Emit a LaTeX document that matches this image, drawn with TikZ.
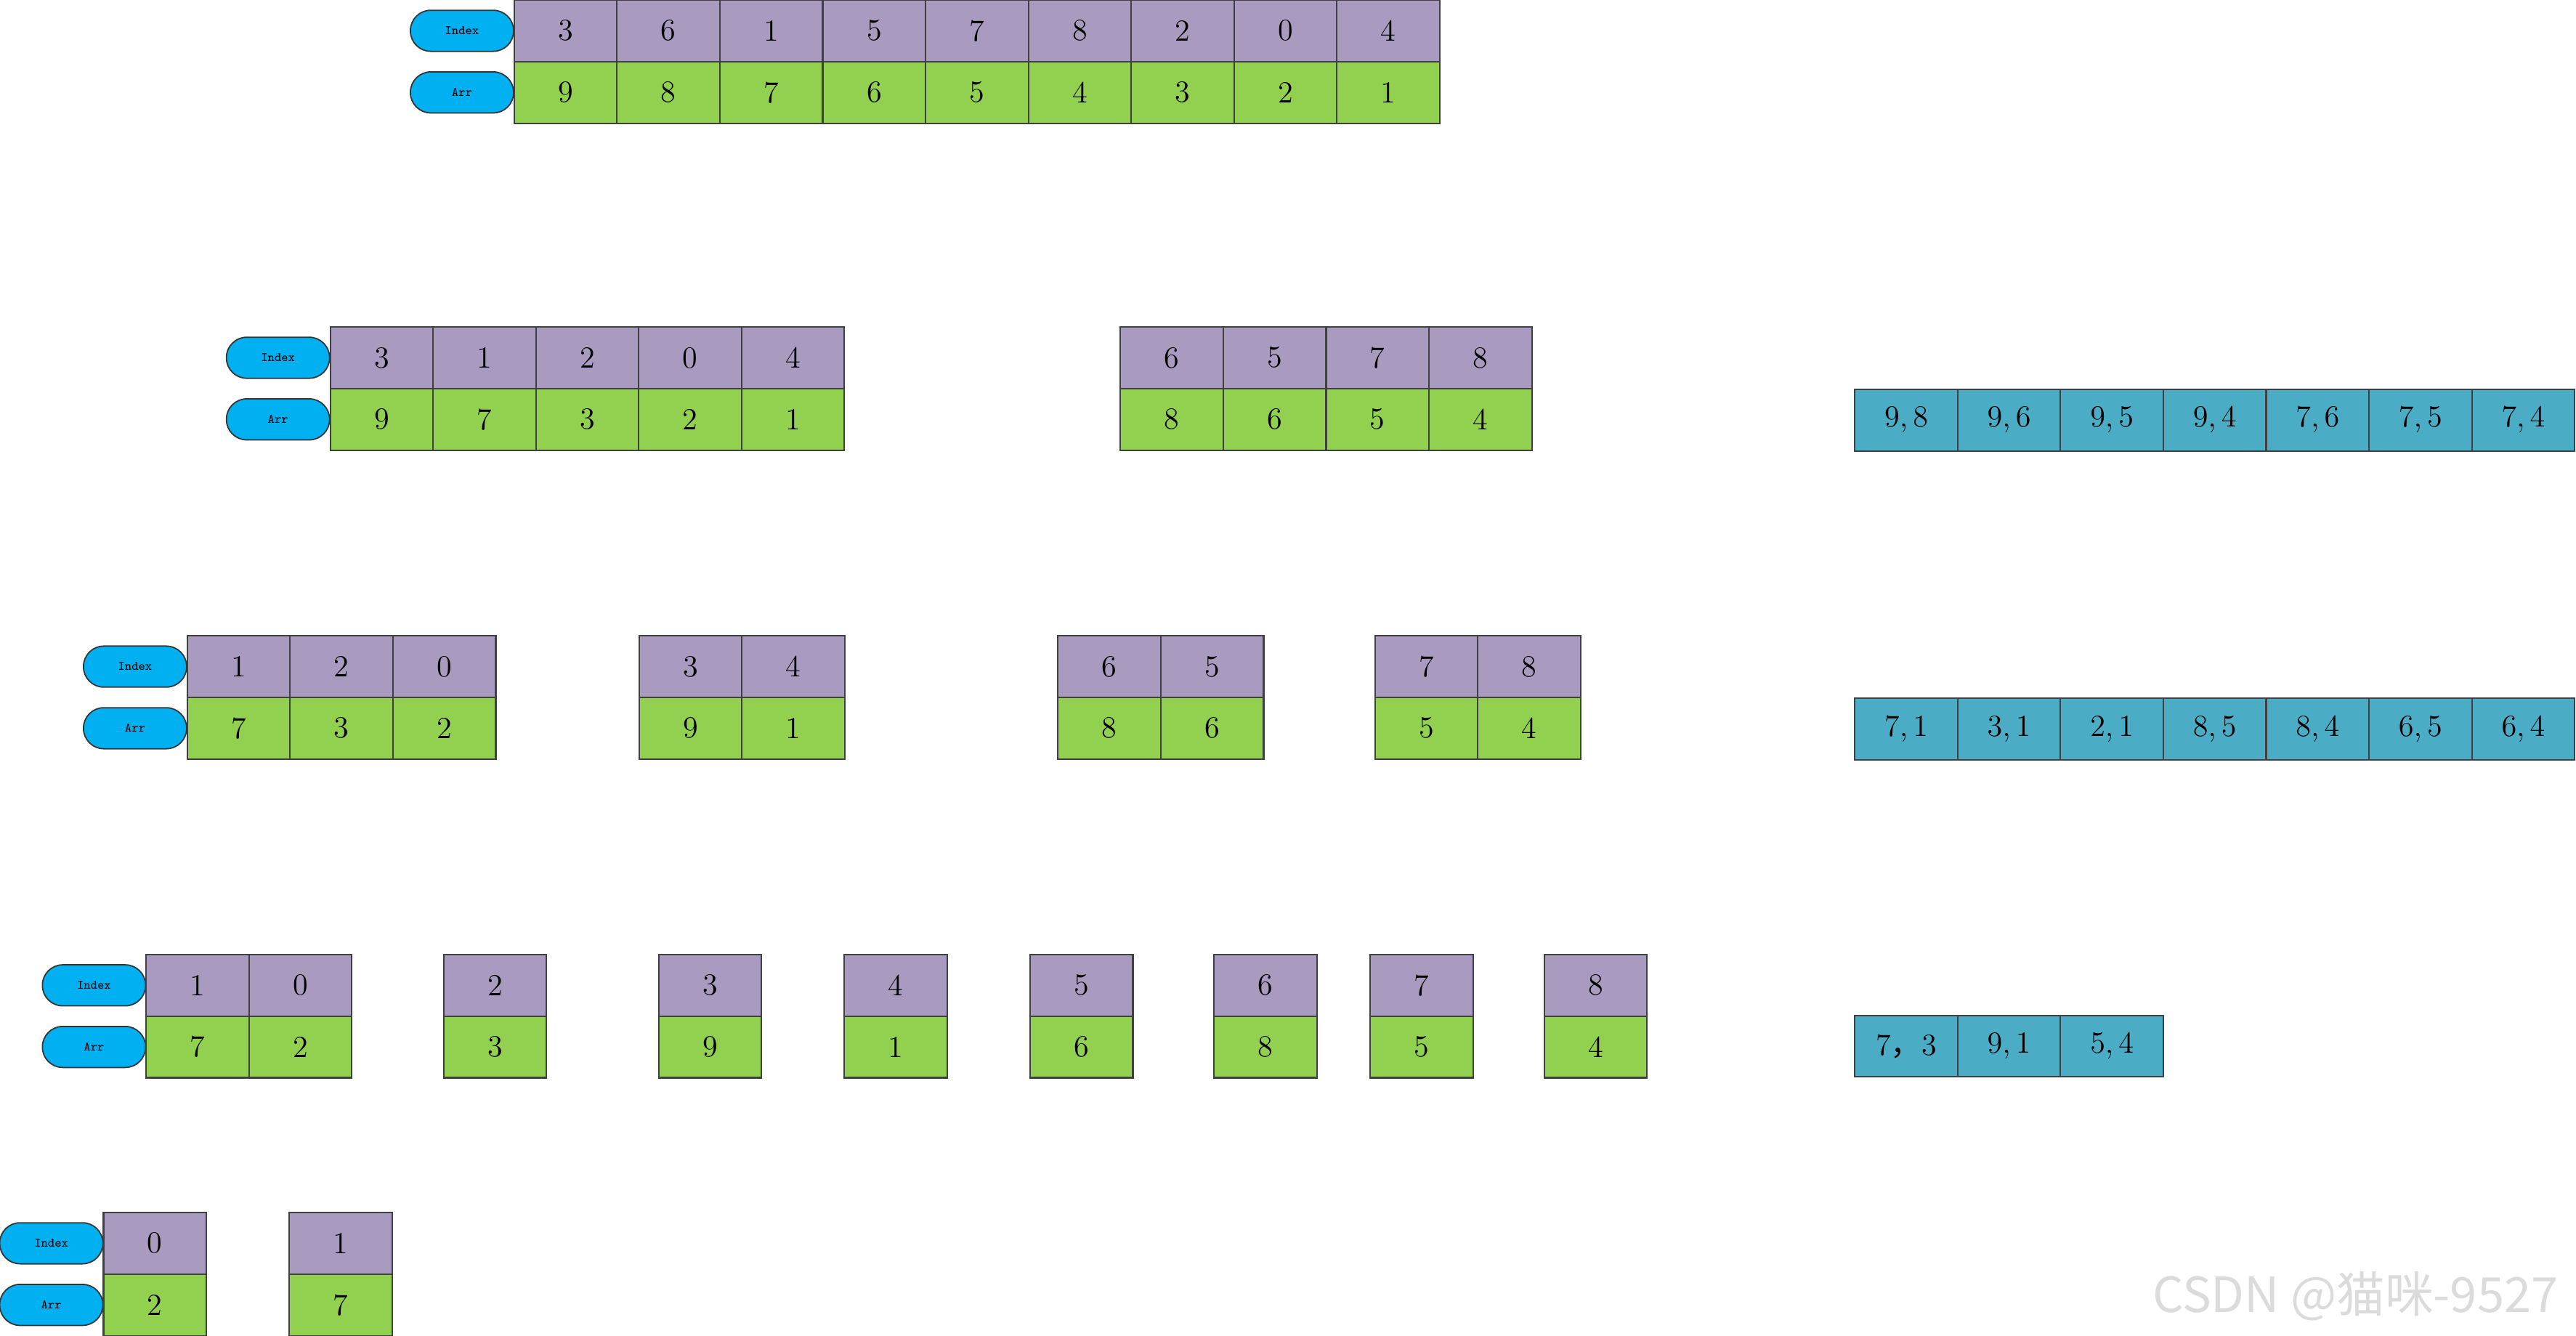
\documentclass[tikz,border=0pt]{standalone}
\usepackage{fontspec}
\newfontfamily\cjk{Noto Sans CJK SC}
\definecolor{idxpurple}{RGB}{169,155,192}
\definecolor{arrgreen}{RGB}{146,208,80}
\definecolor{pairteal}{RGB}{75,172,198}
\definecolor{tagblue}{RGB}{0,176,240}

% one block of Index/Arr columns: name, left x, top y, index/arr list
\newcommand{\cellrow}[4]{%
  \foreach \i/\v [count=\k from 0] in {#4} {
    \node[idxcell] (#1i\k) at ({#2+31.3+62.6*\k},{#3+18.75}) {\i};
    \node[arrcell] (#1a\k) at ({#2+31.3+62.6*\k},{#3+56.25}) {\v};
  }}
% the two labels left of a block: name, right x, top y
\newcommand{\tags}[3]{%
  \node[tag, anchor=east] (#1idx) at (#2,#3+18.75) {Index};
  \node[tag, anchor=east] (#1arr) at (#2,#3+56.25) {Arr};}
% a row of pairs: name, left x, top y, list
\newcommand{\pairrow}[4]{%
  \foreach \t [count=\k from 0] in {#4}
    \node[paircell] (#1p\k) at ({#2+31.3+62.6*\k},{#3+18.75}) {\t};}

\begin{document}
\begin{tikzpicture}[x=0.022615cm, y=-0.022615cm,
  cell/.style={draw=black!75, line width=0.6pt, minimum width=1.4157cm, minimum height=0.848cm, inner sep=0pt, font=\fontsize{12}{14}\selectfont},
  idxcell/.style={cell, fill=idxpurple},
  arrcell/.style={cell, fill=arrgreen},
  paircell/.style={cell, fill=pairteal},
  tag/.style={draw=black!80, line width=0.5pt, fill=tagblue, rounded corners=0.28cm, minimum width=1.42cm, minimum height=0.565cm, inner sep=0pt, font=\ttfamily\fontsize{5}{6}\selectfont}
]
  \useasboundingbox (0,0) rectangle (1568,813);

  % level 1
  \tags{r1}{313}{0}
  \cellrow{r1}{313}{0}{3/9,6/8,1/7,5/6,7/5,8/4,2/3,0/2,4/1}

  % level 2
  \tags{r2}{201}{199}
  \cellrow{r2a}{201}{199}{3/9,1/7,2/3,0/2,4/1}
  \cellrow{r2b}{682}{199}{6/8,5/6,7/5,8/4}
  \pairrow{s1}{1129}{237}{{$9,8$},{$9,6$},{$9,5$},{$9,4$},{$7,6$},{$7,5$},{$7,4$}}

  % level 3
  \tags{r3}{114}{387}
  \cellrow{r3a}{114}{387}{1/7,2/3,0/2}
  \cellrow{r3b}{389}{387}{3/9,4/1}
  \cellrow{r3c}{644}{387}{6/8,5/6}
  \cellrow{r3d}{837}{387}{7/5,8/4}
  \pairrow{s2}{1129}{425}{{$7,1$},{$3,1$},{$2,1$},{$8,5$},{$8,4$},{$6,5$},{$6,4$}}

  % level 4
  \tags{r4}{89}{581}
  \cellrow{r4a}{89}{581}{1/7,0/2}
  \cellrow{r4b}{270}{581}{2/3}
  \cellrow{r4c}{401}{581}{3/9}
  \cellrow{r4d}{514}{581}{4/1}
  \cellrow{r4e}{627}{581}{5/6}
  \cellrow{r4f}{739}{581}{6/8}
  \cellrow{r4g}{834}{581}{7/5}
  \cellrow{r4h}{940}{581}{8/4}
  \pairrow{s3}{1129}{618}{{7{\cjk ，}3},{$9,1$},{$5,4$}}

  % level 5
  \tags{r5}{63}{738}
  \cellrow{r5a}{63}{738}{0/2}
  \cellrow{r5b}{176}{738}{1/7}

  \node[anchor=base west, inner sep=0pt, text=gray!28, font=\cjk\fontsize{19}{23}\selectfont] (mark) at (1310,799) {CSDN @猫咪-9527};
\end{tikzpicture}
\end{document}
